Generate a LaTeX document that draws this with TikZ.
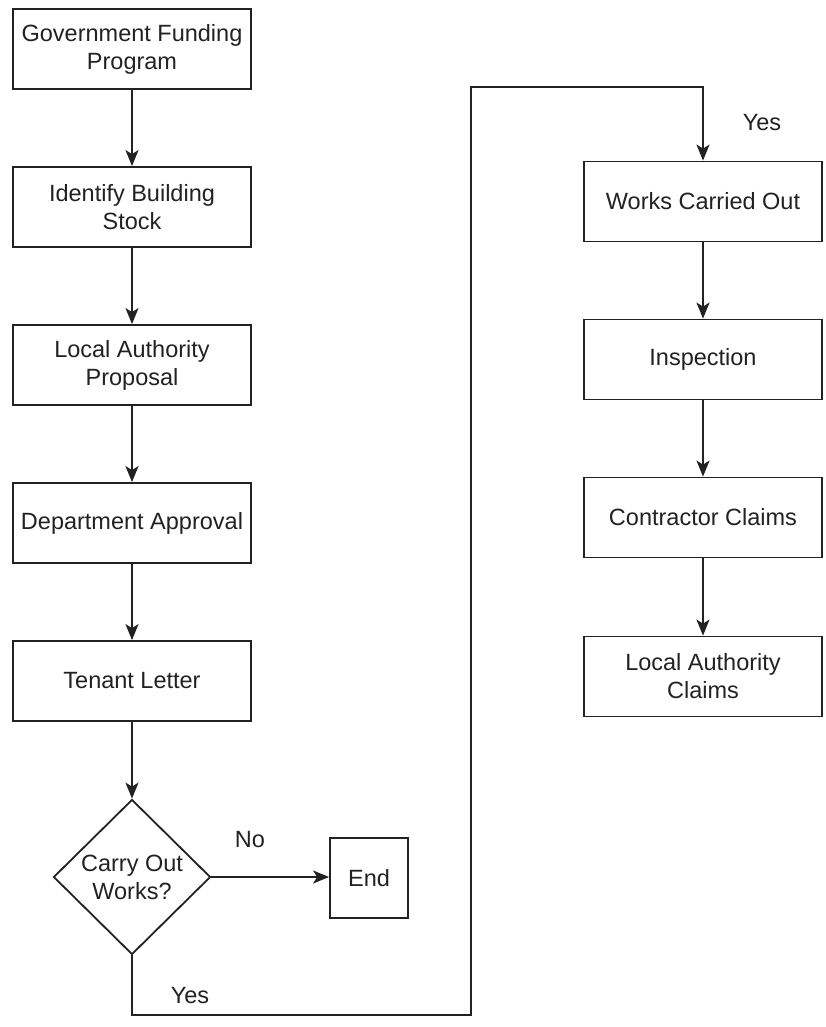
\documentclass[tikz,border=0pt]{standalone}
\usepackage{fontspec}
\setmainfont{Liberation Sans}
\usetikzlibrary{shapes.geometric,arrows.meta}
\definecolor{ink}{HTML}{222222}
\begin{document}
\begin{tikzpicture}[x=1pt,y=1pt,
  every node/.style={text=ink, font=\fontsize{23.5}{28}\selectfont},
  stepbox/.style={draw=ink, line width=1.8pt, minimum width=238pt, minimum height=80pt,
    inner sep=0pt, align=center},
  endbox/.style={draw=ink, line width=1.8pt, minimum width=78pt, minimum height=80pt, inner sep=0pt},
  decision/.style={draw=ink, line width=1.8pt, diamond, aspect=1, minimum width=157pt,
    minimum height=155pt, inner sep=-5pt, align=center},
  flow/.style={draw=ink, line width=1.8pt, -{Stealth[length=16pt,width=13pt,inset=4pt]}},
  lbl/.style={inner sep=0pt}]
\useasboundingbox[fill=white] (0,0) rectangle (826,-1027);

% left column
\node[stepbox] (gfp) at (132,-49) {Government Funding\\Program};
\node[stepbox] (ibs) at (132,-207) {Identify Building\\Stock};
\node[stepbox] (lap) at (132,-365) {Local Authority\\Proposal};
\node[stepbox] (dap) at (132,-523) {Department Approval};
\node[stepbox] (ten) at (132,-681) {Tenant Letter};
\node[decision] (dec) at (132,-877) {Carry Out\\Works?};
\node[endbox] (fin) at (369,-878) {End};

% right column
\node[stepbox] (wco) at (703,-201.5) {Works Carried Out};
\node[stepbox] (ins) at (703,-359.5) {Inspection};
\node[stepbox] (ccl) at (703,-517.5) {Contractor Claims};
\node[stepbox] (lac) at (703,-676.5) {Local Authority\\Claims};

% connector corners of the long "Yes" route
\coordinate (c1) at (132,-1015);
\coordinate (c2) at (471,-1015);
\coordinate (c3) at (471,-87);
\coordinate (c4) at (703,-87);

\draw[flow] (gfp) -- (ibs);
\draw[flow] (ibs) -- (lap);
\draw[flow] (lap) -- (dap);
\draw[flow] (dap) -- (ten);
\draw[flow] (ten) -- (dec);
\draw[flow] (dec.east) -- (fin.west |- dec.east);
\draw[flow] (dec.south) -- (c1) -- (c2) -- (c3) -- (c4) -- (wco.north);
\draw[flow] (wco) -- (ins);
\draw[flow] (ins) -- (ccl);
\draw[flow] (ccl) -- (lac);

% branch labels
\node[lbl] (lno) at (250,-840) {No};
\node[lbl] (lyes1) at (190,-996) {Yes};
\node[lbl] (lyes2) at (762,-123) {Yes};
\end{tikzpicture}
\end{document}
